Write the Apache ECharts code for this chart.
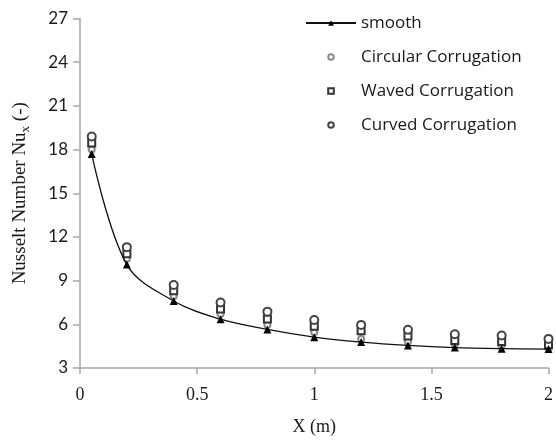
<!DOCTYPE html>
<html>
<head>
<meta charset="utf-8">
<script src="https://cdn.jsdelivr.net/npm/echarts@6/dist/echarts.min.js"></script>
<style>
  html, body { margin: 0; padding: 0; background: #fff; }
  #chart { width: 556px; height: 441px; }
</style>
</head>
<body>
<div id="chart"></div>
<script>
// x positions (m)
var xValues = [0.05, 0.2, 0.4, 0.6, 0.8, 1.0, 1.2, 1.4, 1.6, 1.8, 2.0]
// Nusselt number per case
var smoothNu = [17.7, 10.1, 7.6, 6.35, 5.65, 5.12, 4.78, 4.55, 4.4, 4.33, 4.3]
var circularNu = [18.0, 10.5, 7.95, 6.7, 5.95, 5.45, 5.0, 4.82, 4.64, 4.52, 4.4]
var wavedNu = [18.45, 10.85, 8.3, 7.05, 6.37, 5.87, 5.55, 5.2, 4.89, 4.82, 4.6]
var curvedNu = [18.9, 11.3, 8.7, 7.5, 6.87, 6.3, 5.96, 5.62, 5.32, 5.23, 5.0]
var seriesNames = ['smooth', 'Circular Corrugation', 'Waved Corrugation', 'Curved Corrugation']

function pairs(ys) {
  return xValues.map(function(x, i) { return [x, ys[i]] })
}

var chart = echarts.init(document.getElementById('chart'))
var axisGray = '#a6a6a6'

var option = {
  animation: false,
  grid: { left: 80, right: 6, top: 18.5, bottom: 71 },
  legend: {
    orient: 'vertical',
    left: 300,
    top: 8,
    itemWidth: 50,
    itemHeight: 7,
    itemGap: 14,
    textStyle: { fontFamily: 'Open Sans', fontSize: 17, color: '#1a1a1a', lineHeight: 20 },
    data: seriesNames
  },
  xAxis: {
    type: 'value',
    min: 0,
    max: 2,
    interval: 0.5,
    name: 'X (m)',
    nameLocation: 'middle',
    nameGap: 50,
    nameTextStyle: { fontFamily: 'Liberation Serif', fontSize: 18, color: '#1a1a1a' },
    axisLine: { lineStyle: { color: axisGray, width: 1.5 } },
    axisTick: { show: true, length: 6, lineStyle: { color: axisGray, width: 1.5 } },
    axisLabel: { margin: 18, fontFamily: 'Liberation Serif', fontSize: 18, color: '#1a1a1a' },
    splitLine: { show: false }
  },
  yAxis: {
    type: 'value',
    min: 3,
    max: 27,
    interval: 3,
    name: '{a|Nusselt Number Nu}{b|x}{a| (-)}',
    nameLocation: 'middle',
    nameGap: 50,
    nameTextStyle: {
      rich: {
        a: { fontFamily: 'Liberation Serif', fontSize: 19, color: '#1a1a1a' },
        b: { fontFamily: 'Liberation Serif', fontSize: 13, color: '#1a1a1a', verticalAlign: 'bottom', padding: [0, 0, -2, 0] }
      }
    },
    axisLine: { show: true, lineStyle: { color: axisGray, width: 1.5 } },
    axisTick: { show: true, length: 7, lineStyle: { color: axisGray, width: 1.5 } },
    axisLabel: { margin: 12, fontFamily: 'Lato', fontSize: 17, color: '#1a1a1a' },
    splitLine: { show: false }
  },
  series: [
    {
      name: seriesNames[0],
      type: 'line',
      data: pairs(smoothNu),
      smooth: 0.35,
      z: 5,
      symbol: 'triangle',
      symbolSize: 8,
      itemStyle: { color: '#000' },
      lineStyle: { color: '#111', width: 1.3 }
    },
    {
      name: seriesNames[1],
      type: 'line',
      data: pairs(circularNu),
      symbol: 'emptyCircle',
      symbolSize: 6,
      itemStyle: { color: '#8a8a8a', borderWidth: 1 },
      lineStyle: { opacity: 0, width: 0 }
    },
    {
      name: seriesNames[2],
      type: 'line',
      data: pairs(wavedNu),
      symbol: 'emptyRect',
      symbolSize: 7,
      itemStyle: { color: '#333', borderWidth: 1 },
      lineStyle: { opacity: 0, width: 0 }
    },
    {
      name: seriesNames[3],
      type: 'line',
      data: pairs(curvedNu),
      symbol: 'emptyCircle',
      symbolSize: 8,
      itemStyle: { color: '#444', borderWidth: 1 },
      lineStyle: { opacity: 0, width: 0 }
    }
  ]
}

chart.setOption(option)
</script>
</body>
</html>
